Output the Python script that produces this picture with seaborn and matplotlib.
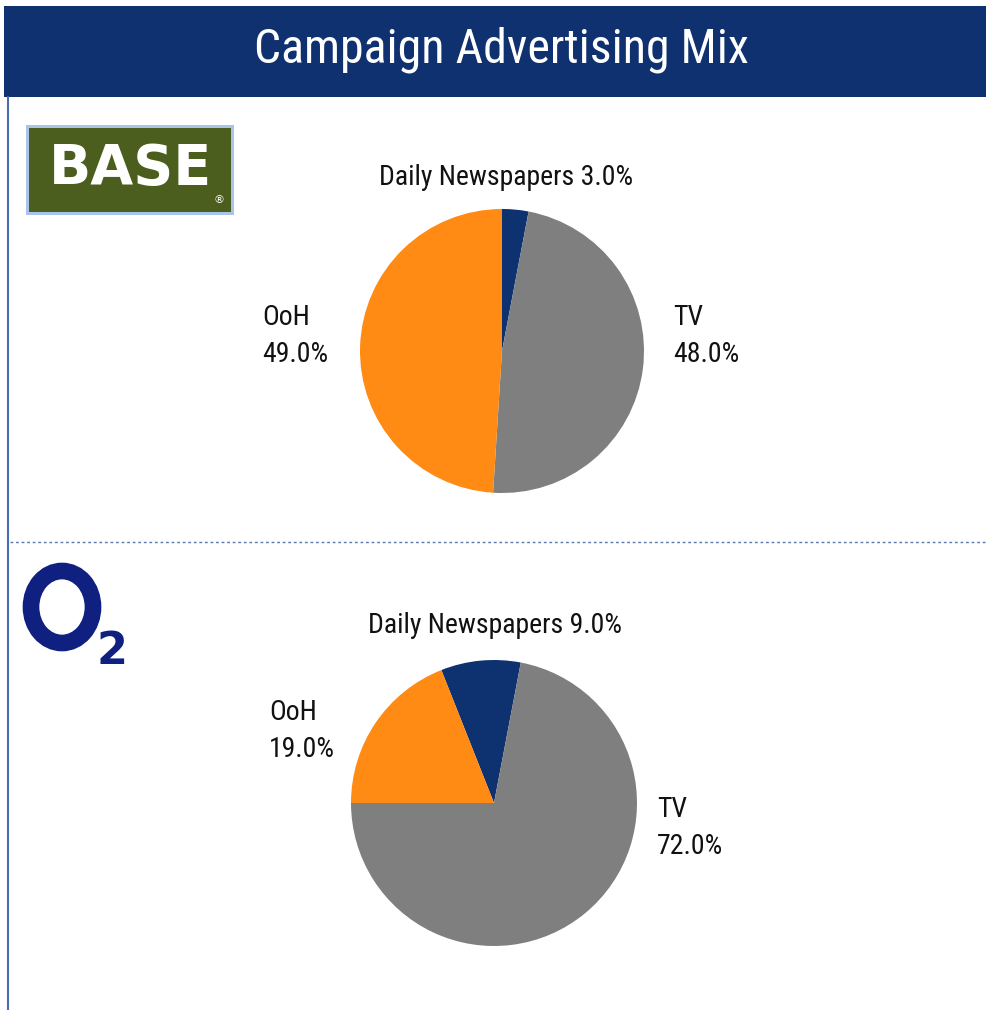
"""
Campaign Advertising Mix -- two pie charts (BASE vs O2)
"""

import matplotlib
matplotlib.use("Agg")
import matplotlib.pyplot as plt
from matplotlib import font_manager
from matplotlib.patches import Rectangle, Ellipse
import seaborn as sns

# --- Data ---
categories = ["Daily Newspapers", "TV", "OoH"]
base_share = [3.0, 48.0, 49.0]
o2_share = [9.0, 72.0, 19.0]
title = "Campaign Advertising Mix"

# --- Style ---
sns.set_theme(style="white")
installed = {f.name for f in font_manager.fontManager.ttflist}
narrow = "Liberation Sans Narrow" if "Liberation Sans Narrow" in installed else "Roboto Condensed"
if narrow not in installed:
    narrow = "Liberation Sans"
plt.rcParams["font.family"] = [narrow, "DejaVu Sans"]

colors = ["#0e3170", "#7f7f7f", "#ff8a14"]
NAVY = "#0f3170"
W, H = 986, 1010

fig = plt.figure(figsize=(W / 100, H / 100), dpi=100)
fig.patch.set_facecolor("white")

# overlay in pixel coordinates for frame / logos
bg = fig.add_axes([0, 0, 1, 1])
bg.set_xlim(0, W)
bg.set_ylim(H, 0)
bg.axis("off")

bg.add_patch(Rectangle((4, 6), W - 4, 91, facecolor=NAVY, edgecolor="none"))
bg.text(501, 50, title, color="white", fontsize=34.5, ha="center", va="center")
bg.plot([8, 8], [97, H], color="#4a6cb0", lw=1.5)
bg.plot([10, W], [542, 542], color="#5a78b0", lw=1.0, ls=(0, (2, 2)))

# BASE logo
bg.add_patch(Rectangle((26, 125), 208, 90, facecolor="#a8c4e8", edgecolor="none"))
bg.add_patch(Rectangle((29, 128), 202, 84, facecolor="#4b5e1e", edgecolor="none"))
bg.text(131, 169, "BASE", color="white", fontsize=40, fontweight="bold",
        family="DejaVu Sans", ha="center", va="center")
bg.text(219, 200, "®", color="white", fontsize=8, ha="center", va="center",
        family="DejaVu Sans")

# O2 logo
bg.add_patch(Ellipse((62, 607), 62, 72, facecolor="none", edgecolor="#0f2080", lw=12))
bg.text(112, 652, "2", color="#0f2080", fontsize=32, fontweight="bold",
        family="DejaVu Sans", ha="center", va="center")


def draw_pie(cx, cy, r, values, startangle, label_pos):
    ax = fig.add_axes([(cx - r) / W, (H - cy - r) / H, 2 * r / W, 2 * r / H])
    ax.pie(values, colors=colors, startangle=startangle, counterclock=False,
           radius=1.0, wedgeprops={"linewidth": 0})
    ax.set_xlim(-1, 1)
    ax.set_ylim(-1, 1)
    ax.set_aspect("equal")
    ax.axis("off")
    for name, val, (x, y, ha) in zip(categories, values, label_pos):
        if name == "Daily Newspapers":
            txt = "{} {:.1f}%".format(name, val)
        else:
            txt = "{}\n{:.1f}%".format(name, val)
        ax.text(x, y, txt, fontsize=20, ha=ha, va="center", color="#111111",
                linespacing=1.45, clip_on=False)


draw_pie(502, 351, 142, base_share, 90,
         [(0.03, 1.225, "center"), (1.204, 0.106, "left"), (-1.69, 0.106, "left")])
draw_pie(494, 803, 143, o2_share, 111.6,
         [(0.01, 1.238, "center"), (1.14, -0.175, "left"), (-1.573, 0.503, "left")])

fig.savefig("out.png", dpi=100, facecolor="white")
plt.close(fig)
